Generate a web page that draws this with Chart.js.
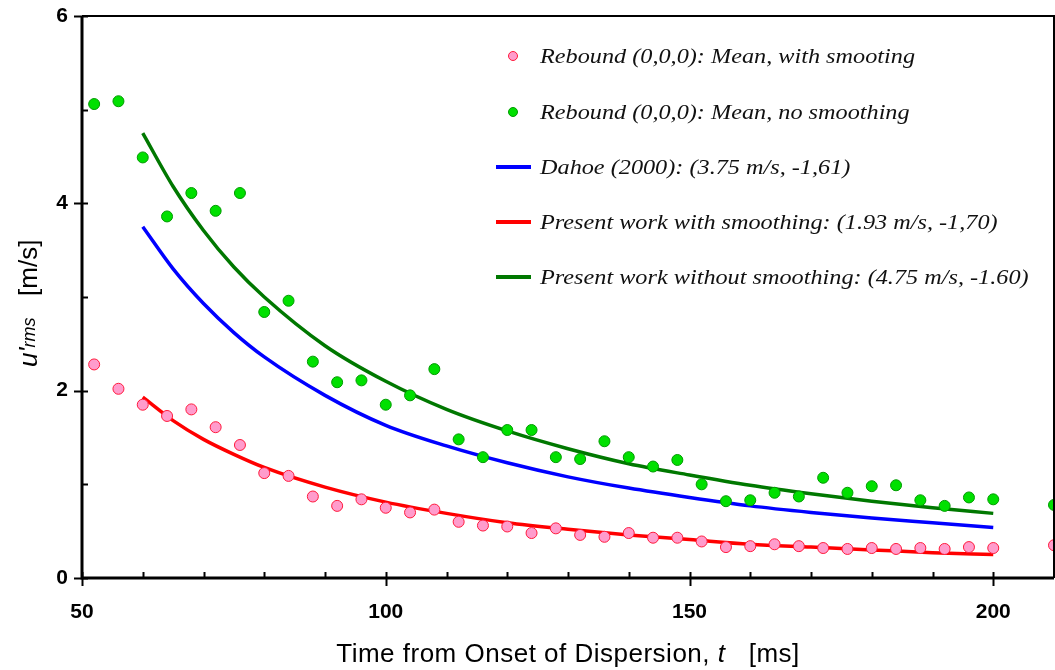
<!DOCTYPE html>
<html>
<head>
<meta charset="utf-8">
<script src="https://cdn.jsdelivr.net/npm/chart.js@4"></script>
<style>
    body { margin: 0; background: #ffffff; }
</style>
</head>
<body>
<canvas id="rmsChart" width="1055" height="670"></canvas>
<script>
// Measured times [ms] for the Rebound (0,0,0) means
const sampleTimes = [52, 56, 60, 64, 68, 72, 76, 80, 84, 88, 92, 96, 100, 104, 108, 112, 116, 120, 124, 128,
    132, 136, 140, 144, 148, 152, 156, 160, 164, 168, 172, 176, 180, 184, 188, 192, 196, 200, 210];

// Mean u'rms with smoothing (pink dots)
const meanSmoothed = [2.28, 2.02, 1.85, 1.73, 1.80, 1.61, 1.42, 1.12, 1.09, 0.87, 0.77, 0.84, 0.75, 0.70, 0.73, 0.60, 0.56, 0.55, 0.48, 0.53,
    0.46, 0.44, 0.48, 0.43, 0.43, 0.39, 0.33, 0.34, 0.36, 0.34, 0.32, 0.31, 0.32, 0.31, 0.32, 0.31, 0.33, 0.32, 0.35];

// Mean u'rms without smoothing (green dots)
const meanRaw = [5.06, 5.09, 4.49, 3.86, 4.11, 3.92, 4.11, 2.84, 2.96, 2.31, 2.09, 2.11, 1.85, 1.95, 2.23, 1.48, 1.29, 1.58, 1.58, 1.29,
    1.27, 1.46, 1.29, 1.19, 1.26, 1.00, 0.82, 0.83, 0.91, 0.87, 1.07, 0.91, 0.98, 0.99, 0.83, 0.77, 0.86, 0.84, 0.78];

// Decay curves
const fitTimes = [60, 65, 70, 75, 80, 90, 100, 110, 120, 130, 140, 150, 160, 170, 180, 190, 200];
const dahoeCurve = [3.75, 3.30, 2.93, 2.62, 2.36, 1.95, 1.63, 1.41, 1.23, 1.08, 0.96, 0.86, 0.77, 0.70, 0.64, 0.59, 0.54];
const smoothCurve = [1.93, 1.68, 1.48, 1.32, 1.18, 0.97, 0.81, 0.69, 0.59, 0.52, 0.46, 0.41, 0.36, 0.33, 0.30, 0.27, 0.25];
const rawCurve = [4.75, 4.18, 3.71, 3.32, 3.00, 2.48, 2.10, 1.80, 1.57, 1.38, 1.22, 1.10, 0.99, 0.90, 0.82, 0.75, 0.69];

// Axis labels
const xTickLabels = [50, 100, 150, 200];
const yTickLabels = [0, 2, 4, 6];

const legendLabels = [
    'Rebound (0,0,0): Mean, with smooting',
    'Rebound (0,0,0): Mean, no smoothing',
    'Dahoe (2000): (3.75 m/s, -1,61)',
    'Present work with smoothing: (1.93 m/s, -1,70)',
    'Present work without smoothing: (4.75 m/s, -1.60)'
];

function toPoints(xs, ys) {
    return xs.map((x, i) => ({ x: x, y: ys[i] }));
}

// Frame, inward/outward tick marks, legend and axis titles
const decorPlugin = {
    id: 'decor',
    afterDraw(chart) {
        const ctx = chart.ctx;
        const area = chart.chartArea;
        const xs = chart.scales.x;
        const ys = chart.scales.y;
        ctx.save();
        ctx.strokeStyle = '#000';

        ctx.lineWidth = 2;
        ctx.beginPath();
        ctx.moveTo(area.left, area.top);
        ctx.lineTo(area.right, area.top);
        ctx.lineTo(area.right, area.bottom);
        ctx.stroke();

        ctx.lineWidth = 3;
        ctx.beginPath();
        ctx.moveTo(area.left, area.top);
        ctx.lineTo(area.left, area.bottom);
        ctx.lineTo(area.right, area.bottom);
        ctx.stroke();

        ctx.lineWidth = 2;
        xs.ticks.forEach(t => {
            if (t.value >= xs.max) return;
            const px = Math.round(xs.getPixelForValue(t.value)) + 0.5;
            const major = xTickLabels.includes(t.value);
            ctx.beginPath();
            ctx.moveTo(px, area.bottom - 6);
            ctx.lineTo(px, major ? area.bottom + 8 : area.bottom);
            ctx.stroke();
        });
        ys.ticks.forEach(t => {
            const py = Math.round(ys.getPixelForValue(t.value)) + 0.5;
            const major = yTickLabels.includes(t.value);
            ctx.beginPath();
            ctx.moveTo(major ? area.left - 8 : area.left, py);
            ctx.lineTo(area.left + 6, py);
            ctx.stroke();
        });

        // legend (serif italic, stretched a little to the reference width)
        const ds = chart.data.datasets;
        const rowY = [56, 112, 167, 222, 277];
        ctx.font = 'italic 21px "Liberation Serif"';
        const stretch = 375 / ctx.measureText(legendLabels[0]).width;
        ctx.textBaseline = 'middle';
        ctx.textAlign = 'left';
        legendLabels.forEach((label, i) => {
            const y = rowY[i];
            const d = ds[i];
            if (d.showLine) {
                ctx.strokeStyle = d.borderColor;
                ctx.lineWidth = 4;
                ctx.beginPath();
                ctx.moveTo(496, y);
                ctx.lineTo(531, y);
                ctx.stroke();
            } else {
                ctx.fillStyle = d.backgroundColor;
                ctx.strokeStyle = d.borderColor;
                ctx.lineWidth = 1;
                ctx.beginPath();
                ctx.arc(513, y, 4.5, 0, Math.PI * 2);
                ctx.fill();
                ctx.stroke();
            }
            ctx.save();
            ctx.translate(540, y + 1);
            ctx.scale(stretch, 1);
            ctx.fillStyle = '#111';
            ctx.fillText(label, 0, 0);
            ctx.restore();
        });

        // x title
        ctx.fillStyle = '#000';
        ctx.textBaseline = 'alphabetic';
        ctx.letterSpacing = '0.5px';
        const partA = 'Time from Onset of Dispersion, ';
        const partB = 't';
        const partC = '   [ms]';
        const reg = '26px "Liberation Sans"';
        const ital = 'italic 26px "Liberation Sans"';
        ctx.font = reg;
        const wA = ctx.measureText(partA).width;
        const wC = ctx.measureText(partC).width;
        ctx.font = ital;
        const wB = ctx.measureText(partB).width;
        const x0 = (area.left + area.right) / 2 - (wA + wB + wC) / 2;
        ctx.font = reg;
        ctx.fillText(partA, x0, 662);
        ctx.font = ital;
        ctx.fillText(partB, x0 + wA, 662);
        ctx.font = reg;
        ctx.fillText(partC, x0 + wA + wB, 662);

        // y title, rotated
        ctx.letterSpacing = '0px';
        ctx.translate(37, 367);
        ctx.rotate(-Math.PI / 2);
        ctx.font = ital;
        ctx.fillText("u'", 0, 0);
        let pos = ctx.measureText("u'").width;
        ctx.font = 'italic 18px "Liberation Sans"';
        ctx.fillText('rms', pos, -2);
        pos += ctx.measureText('rms').width;
        ctx.font = reg;
        ctx.fillText('   [m/s]', pos, 0);
        ctx.restore();
    }
};

const ctx = document.getElementById('rmsChart').getContext('2d');
const rmsChart = new Chart(ctx, {
    type: 'scatter',
    data: {
        datasets: [
            {
                label: legendLabels[0],
                data: toPoints(sampleTimes, meanSmoothed),
                showLine: false,
                backgroundColor: '#ff9ccc',
                borderColor: '#ff1a3c',
                borderWidth: 1,
                pointRadius: 5.5
            },
            {
                label: legendLabels[1],
                data: toPoints(sampleTimes, meanRaw),
                showLine: false,
                backgroundColor: '#00e000',
                borderColor: '#009a00',
                borderWidth: 1,
                pointRadius: 5.5
            },
            {
                label: legendLabels[2],
                data: toPoints(fitTimes, dahoeCurve),
                showLine: true,
                borderColor: '#0000ff',
                borderWidth: 3.5,
                pointRadius: 0,
                cubicInterpolationMode: 'monotone'
            },
            {
                label: legendLabels[3],
                data: toPoints(fitTimes, smoothCurve),
                showLine: true,
                borderColor: '#ff0000',
                borderWidth: 3.5,
                pointRadius: 0,
                cubicInterpolationMode: 'monotone'
            },
            {
                label: legendLabels[4],
                data: toPoints(fitTimes, rawCurve),
                showLine: true,
                borderColor: '#007800',
                borderWidth: 3.5,
                pointRadius: 0,
                cubicInterpolationMode: 'monotone'
            }
        ]
    },
    options: {
        responsive: false,
        animation: false,
        layout: {
            autoPadding: false,
            padding: { top: 16, right: 1, left: 0, bottom: 0 }
        },
        plugins: {
            legend: { display: false },
            tooltip: { enabled: false }
        },
        scales: {
            x: {
                type: 'linear',
                min: 50,
                max: 210,
                grid: { display: false, drawTicks: false },
                border: { display: false },
                afterFit: scale => {
                    scale.height = 92;
                    scale.paddingLeft = 0;
                    scale.paddingRight = 0;
                },
                ticks: {
                    stepSize: 10,
                    padding: 22,
                    autoSkip: false,
                    maxRotation: 0,
                    color: '#000',
                    font: { family: '"Liberation Sans"', size: 21, weight: 'bold' },
                    callback: v => xTickLabels.includes(v) ? v : ''
                }
            },
            y: {
                min: 0,
                max: 6,
                grid: { display: false, drawTicks: false },
                border: { display: false },
                afterFit: scale => {
                    scale.width = 82;
                    scale.paddingTop = 0;
                    scale.paddingBottom = 0;
                },
                ticks: {
                    stepSize: 1,
                    padding: 14,
                    autoSkip: false,
                    color: '#000',
                    font: { family: '"Liberation Sans"', size: 21, weight: 'bold' },
                    callback: v => yTickLabels.includes(v) ? v : ''
                }
            }
        }
    },
    plugins: [decorPlugin]
});
</script>
</body>
</html>
